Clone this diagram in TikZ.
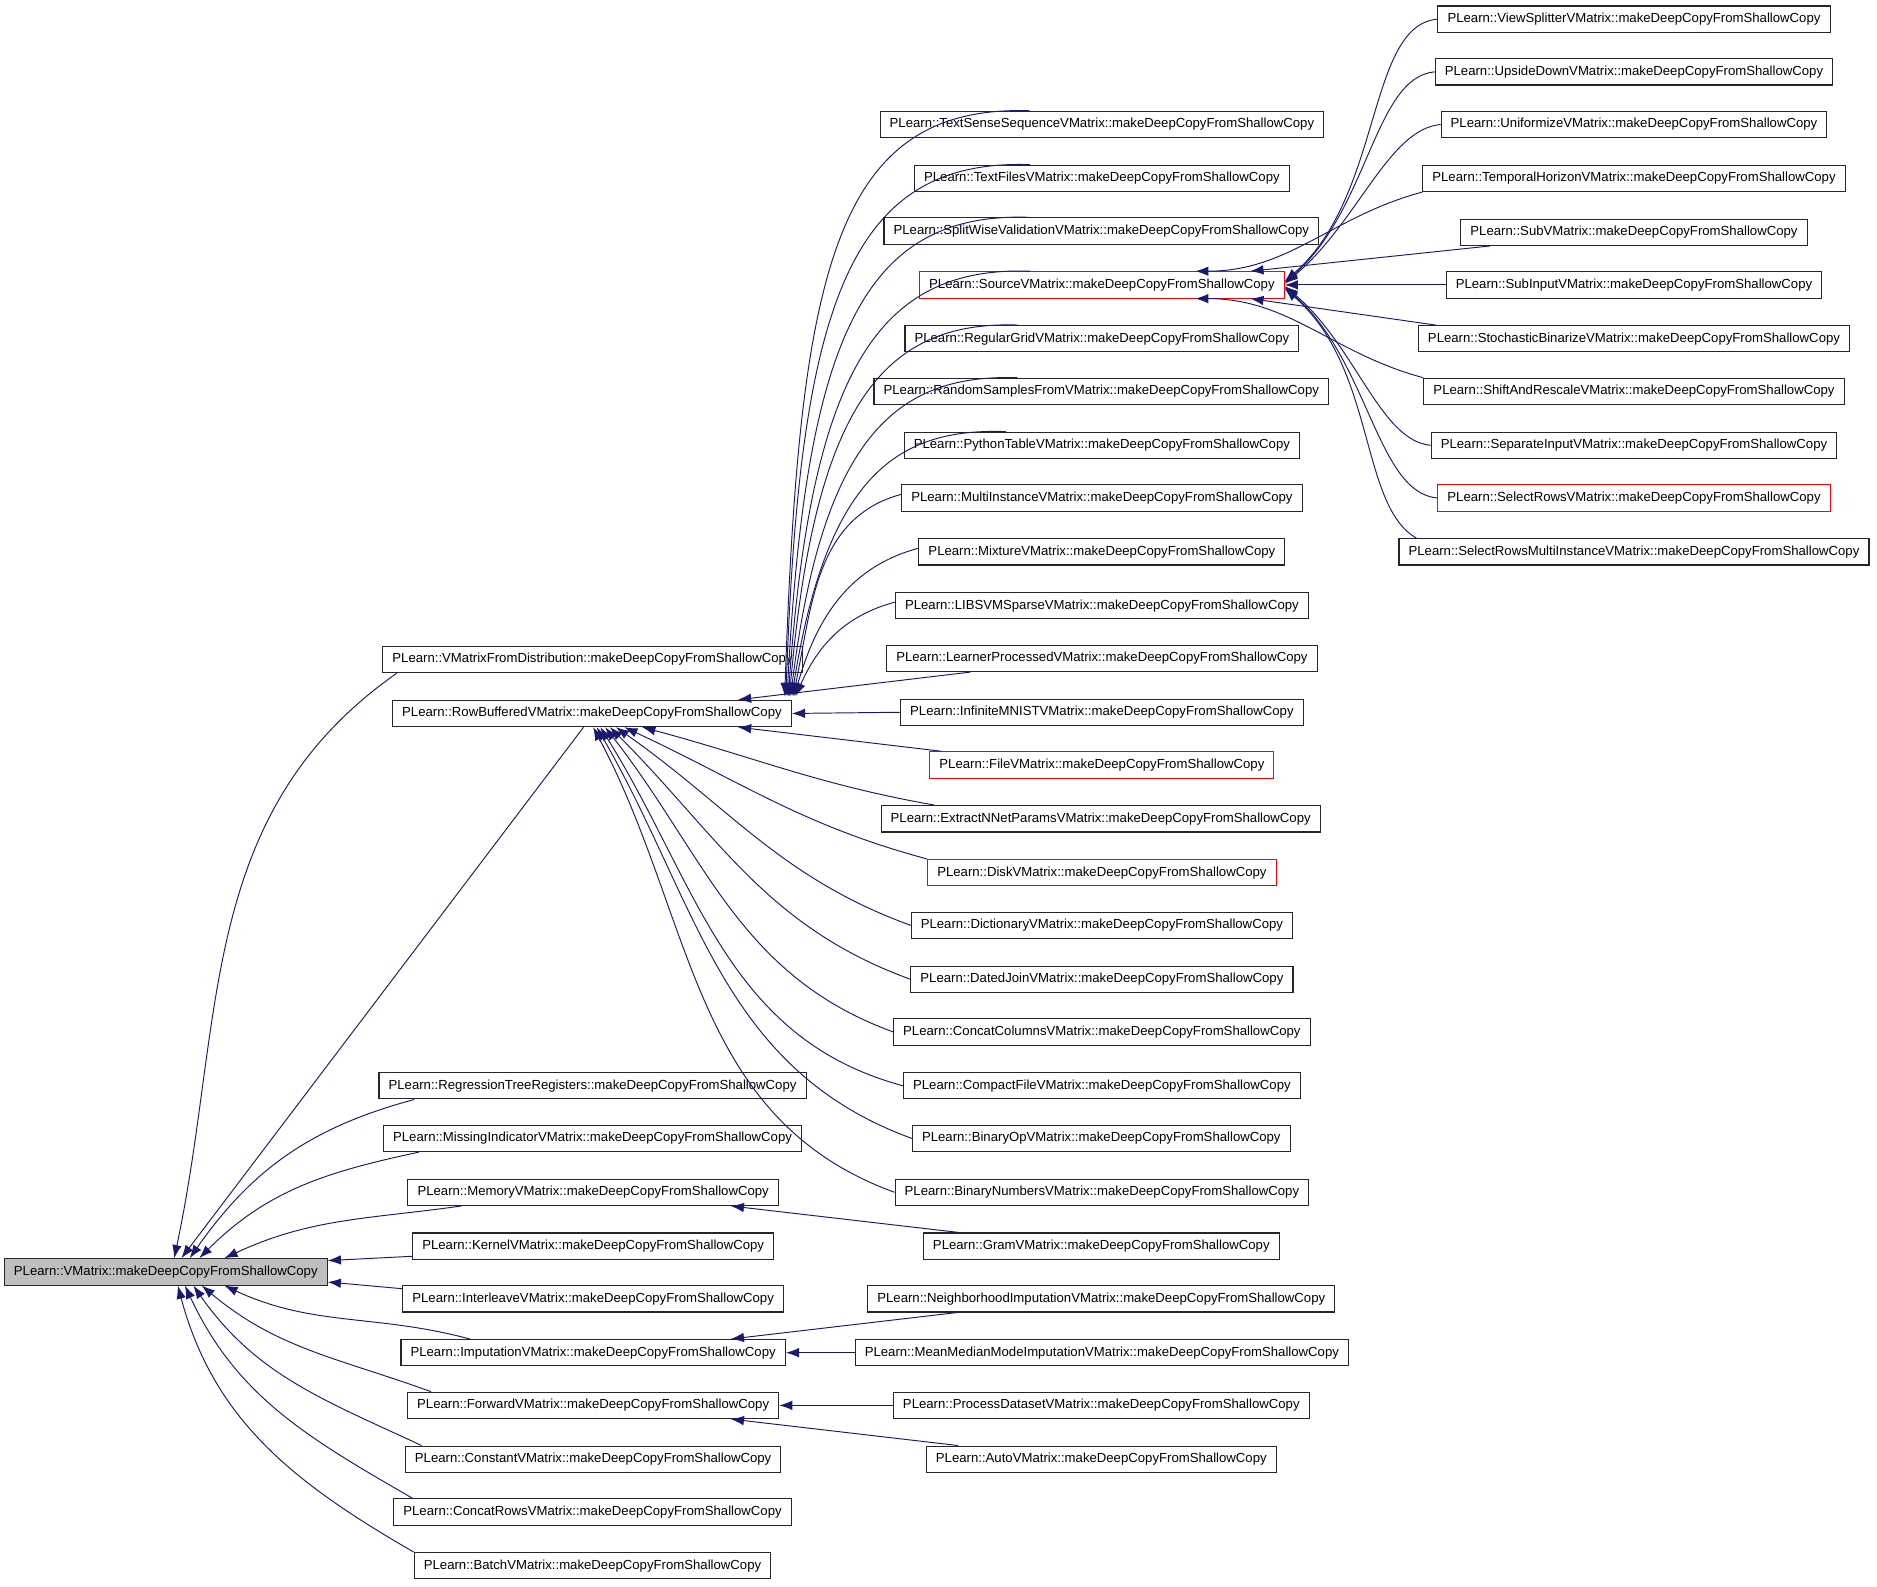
\documentclass[tikz,border=0pt]{standalone}
\usepackage{fontspec}
\setmainfont{Liberation Sans}
\usetikzlibrary{arrows.meta}
\definecolor{edgeblue}{HTML}{191970}
\definecolor{basegray}{HTML}{BFBFBF}

\begin{document}
\begin{tikzpicture}[x=1pt,y=-1pt,
  box/.style={draw=black!85,line width=0.9pt,inner xsep=8pt,inner ysep=0pt,minimum height=22pt,font=\fontsize{11}{13}\selectfont},
  redbox/.style={box,draw=red},
  basebox/.style={box,fill=basegray},
  inh/.style={draw=edgeblue,line width=0.8pt,-{Latex[length=11pt,width=8pt]}},
  bundle/.style={out looseness=0.8,in looseness=1.7},
  fan/.style={out looseness=0.6,in looseness=1.1}]

\useasboundingbox (0,0) rectangle (1568,1325);

% 基底クラス
\node[basebox] (vm) at (138.5,1062.5) {PLearn::VMatrix::makeDeepCopyFromShallowCopy};

% 第1階層
\node[box] (vfd) at (495,551) {PLearn::VMatrixFromDistribution::makeDeepCopyFromShallowCopy};
\node[box] (rb) at (494.5,596) {PLearn::RowBufferedVMatrix::makeDeepCopyFromShallowCopy};
\node[box] (rtr) at (495,907) {PLearn::RegressionTreeRegisters::makeDeepCopyFromShallowCopy};
\node[box] (mind) at (495,951) {PLearn::MissingIndicatorVMatrix::makeDeepCopyFromShallowCopy};
\node[box] (mem) at (495.5,996) {PLearn::MemoryVMatrix::makeDeepCopyFromShallowCopy};
\node[box] (ker) at (495.5,1041) {PLearn::KernelVMatrix::makeDeepCopyFromShallowCopy};
\node[box] (il) at (495.5,1085) {PLearn::InterleaveVMatrix::makeDeepCopyFromShallowCopy};
\node[box] (imp) at (495.5,1130) {PLearn::ImputationVMatrix::makeDeepCopyFromShallowCopy};
\node[box] (fw) at (495.5,1174) {PLearn::ForwardVMatrix::makeDeepCopyFromShallowCopy};
\node[box] (cst) at (495.5,1219) {PLearn::ConstantVMatrix::makeDeepCopyFromShallowCopy};
\node[box] (cr) at (495,1263) {PLearn::ConcatRowsVMatrix::makeDeepCopyFromShallowCopy};
\node[box] (bat) at (495,1308) {PLearn::BatchVMatrix::makeDeepCopyFromShallowCopy};

% 第2階層
\node[box] (tss) at (920.5,104) {PLearn::TextSenseSequenceVMatrix::makeDeepCopyFromShallowCopy};
\node[box] (tfv) at (920.5,149) {PLearn::TextFilesVMatrix::makeDeepCopyFromShallowCopy};
\node[box] (swv) at (920,193) {PLearn::SplitWiseValidationVMatrix::makeDeepCopyFromShallowCopy};
\node[redbox] (src) at (920.5,238) {PLearn::SourceVMatrix::makeDeepCopyFromShallowCopy};
\node[box] (rgv) at (920.5,283) {PLearn::RegularGridVMatrix::makeDeepCopyFromShallowCopy};
\node[box] (rsv) at (920,327) {PLearn::RandomSamplesFromVMatrix::makeDeepCopyFromShallowCopy};
\node[box] (ptv) at (920.5,372) {PLearn::PythonTableVMatrix::makeDeepCopyFromShallowCopy};
\node[box] (miv) at (920.5,416) {PLearn::MultiInstanceVMatrix::makeDeepCopyFromShallowCopy};
\node[box] (mxv) at (920.5,461) {PLearn::MixtureVMatrix::makeDeepCopyFromShallowCopy};
\node[box] (lsv) at (920.5,506) {PLearn::LIBSVMSparseVMatrix::makeDeepCopyFromShallowCopy};
\node[box] (lpv) at (920.5,550) {PLearn::LearnerProcessedVMatrix::makeDeepCopyFromShallowCopy};
\node[box] (imv) at (920.5,595) {PLearn::InfiniteMNISTVMatrix::makeDeepCopyFromShallowCopy};
\node[redbox] (fv) at (920.5,639) {PLearn::FileVMatrix::makeDeepCopyFromShallowCopy};
\node[box] (env) at (919.5,684) {PLearn::ExtractNNetParamsVMatrix::makeDeepCopyFromShallowCopy};
\node[redbox] (dv) at (920.5,729) {PLearn::DiskVMatrix::makeDeepCopyFromShallowCopy};
\node[box] (dcv) at (920.5,773) {PLearn::DictionaryVMatrix::makeDeepCopyFromShallowCopy};
\node[box] (djv) at (920.5,818) {PLearn::DatedJoinVMatrix::makeDeepCopyFromShallowCopy};
\node[box] (ccv) at (920.5,862) {PLearn::ConcatColumnsVMatrix::makeDeepCopyFromShallowCopy};
\node[box] (cfv) at (920.5,907) {PLearn::CompactFileVMatrix::makeDeepCopyFromShallowCopy};
\node[box] (bov) at (920,951) {PLearn::BinaryOpVMatrix::makeDeepCopyFromShallowCopy};
\node[box] (bnv) at (920.5,996) {PLearn::BinaryNumbersVMatrix::makeDeepCopyFromShallowCopy};
\node[box] (gv) at (920,1041) {PLearn::GramVMatrix::makeDeepCopyFromShallowCopy};
\node[box] (nbv) at (920,1085) {PLearn::NeighborhoodImputationVMatrix::makeDeepCopyFromShallowCopy};
\node[box] (mmv) at (920.5,1130) {PLearn::MeanMedianModeImputationVMatrix::makeDeepCopyFromShallowCopy};
\node[box] (pdv) at (920,1174) {PLearn::ProcessDatasetVMatrix::makeDeepCopyFromShallowCopy};
\node[box] (av) at (920,1219) {PLearn::AutoVMatrix::makeDeepCopyFromShallowCopy};

% 第3階層
\node[box] (vsv) at (1365,16) {PLearn::ViewSplitterVMatrix::makeDeepCopyFromShallowCopy};
\node[box] (udv) at (1365,60) {PLearn::UpsideDownVMatrix::makeDeepCopyFromShallowCopy};
\node[box] (unv) at (1365,104) {PLearn::UniformizeVMatrix::makeDeepCopyFromShallowCopy};
\node[box] (thv) at (1365,149) {PLearn::TemporalHorizonVMatrix::makeDeepCopyFromShallowCopy};
\node[box] (sbv) at (1365,194) {PLearn::SubVMatrix::makeDeepCopyFromShallowCopy};
\node[box] (siv) at (1365,238) {PLearn::SubInputVMatrix::makeDeepCopyFromShallowCopy};
\node[box] (sbzv) at (1365,283) {PLearn::StochasticBinarizeVMatrix::makeDeepCopyFromShallowCopy};
\node[box] (sarv) at (1365,327) {PLearn::ShiftAndRescaleVMatrix::makeDeepCopyFromShallowCopy};
\node[box] (sepv) at (1365,372) {PLearn::SeparateInputVMatrix::makeDeepCopyFromShallowCopy};
\node[redbox] (srv) at (1365,416) {PLearn::SelectRowsVMatrix::makeDeepCopyFromShallowCopy};
\node[box] (srmv) at (1365,461) {PLearn::SelectRowsMultiInstanceVMatrix::makeDeepCopyFromShallowCopy};

% VMatrix への矢印
\draw[inh] ([xshift=12]vfd.south west) to[out=215,in=78] ([xshift=7]vm.north);
\draw[inh] ([xshift=-7]rb.south) -- ([xshift=13]vm.north);
\draw[inh] ([xshift=30]rtr.south west) to[out=195,in=55] ([xshift=20]vm.north);
\draw[inh] ([xshift=30]mind.south west) to[out=192,in=45] ([xshift=28]vm.north);
\draw[inh] ([xshift=45]mem.south west) to[out=188,in=25] ([xshift=49]vm.north);
\draw[inh] ([yshift=3]ker.south west) -- ([yshift=-2]vm.north east);
\draw[inh] ([yshift=-3]il.north west) -- ([yshift=3]vm.south east);
\draw[inh] ([xshift=58]imp.north west) to[out=165,in=-25] ([xshift=49]vm.south);
\draw[inh] ([xshift=20]fw.north west) to[out=160,in=-40] ([xshift=30]vm.south);
\draw[inh] ([xshift=14]cst.north west) to[out=155,in=-55] ([xshift=23]vm.south);
\draw[inh] ([xshift=16]cr.north west) to[out=150,in=-65] ([xshift=16]vm.south);
\draw[inh] (bat.north west) to[out=150,in=-75] ([xshift=10]vm.south);

% RowBufferedVMatrix への矢印
\draw[inh,bundle] ([xshift=-60]tss.north) to[out=178,in=88] ([xshift=-6,yshift=3]rb.north east);
\draw[inh,bundle] ([xshift=-60]tfv.north) to[out=178,in=88] ([xshift=-5,yshift=3]rb.north east);
\draw[inh,bundle] ([xshift=-60]swv.north) to[out=178,in=87] ([xshift=-4,yshift=3]rb.north east);
\draw[inh,bundle] ([xshift=-60]src.north) to[out=178,in=86] ([xshift=-3,yshift=3]rb.north east);
\draw[inh,bundle] ([xshift=-70]rgv.north) to[out=178,in=85] ([xshift=-2,yshift=3]rb.north east);
\draw[inh,bundle] ([xshift=-70]rsv.north) to[out=178,in=83] ([xshift=-1,yshift=3]rb.north east);
\draw[inh,bundle] ([xshift=-80]ptv.north) to[out=178,in=81] ([xshift=0,yshift=3]rb.north east);
\draw[inh] ([yshift=3]miv.west) to[out=195,in=78] ([xshift=1,yshift=3]rb.north east);
\draw[inh] ([yshift=3]mxv.west) to[out=195,in=74] ([xshift=2,yshift=3]rb.north east);
\draw[inh] ([yshift=3]lsv.west) to[out=195,in=66] ([xshift=3,yshift=3]rb.north east);
\draw[inh] ([xshift=-110]lpv.south) -- ([xshift=122]rb.north);
\draw[inh] (imv.west) -- (rb.east);
\draw[inh] ([xshift=10]fv.north west) -- ([xshift=122]rb.south);
\draw[inh] ([xshift=45]env.north west) to[out=170,in=-15] ([xshift=42]rb.south);
\draw[inh] (dv.north west) to[out=165,in=-25] ([xshift=27]rb.south);
\draw[inh] (dcv.west) to[out=160,in=-35] ([xshift=20]rb.south);
\draw[inh] (djv.west) to[out=160,in=-45] ([xshift=15]rb.south);
\draw[inh] (ccv.west) to[out=160,in=-52] ([xshift=11]rb.south);
\draw[inh] (cfv.west) to[out=165,in=-58] ([xshift=7]rb.south);
\draw[inh] (bov.west) to[out=160,in=-60] ([xshift=4]rb.south);
\draw[inh] (bnv.west) to[out=160,in=-62] ([xshift=1]rb.south);

% その他の中間クラスへの矢印
\draw[inh] ([xshift=30]gv.north west) -- ([xshift=115]mem.south);
\draw[inh] ([xshift=75]nbv.south west) -- ([xshift=115]imp.north);
\draw[inh] (mmv.west) -- (imp.east);
\draw[inh] (pdv.west) -- (fw.east);
\draw[inh] ([xshift=27]av.north west) -- ([xshift=115]fw.south);

% SourceVMatrix への矢印
\draw[inh,fan] (vsv.west) to[out=185,in=41] ([yshift=3]src.east);
\draw[inh,fan] (udv.west) to[out=185,in=41] ([yshift=2]src.east);
\draw[inh,fan] (unv.west) to[out=185,in=40] ([yshift=1]src.east);
\draw[inh] (thv.south west) to[out=195,in=0] ([xshift=78]src.north);
\draw[inh] ([xshift=25]sbv.south west) -- ([xshift=124]src.north);
\draw[inh] (siv.west) -- (src.east);
\draw[inh] ([xshift=15]sbzv.north west) -- ([xshift=124]src.south);
\draw[inh] (sarv.north west) to[out=165,in=0] ([xshift=78]src.south);
\draw[inh,fan] (sepv.west) to[out=175,in=-40] ([yshift=-1]src.east);
\draw[inh,fan] (srv.west) to[out=175,in=-41] ([yshift=-2]src.east);
\draw[inh,fan] ([xshift=15]srmv.north west) to[out=150,in=-41] ([yshift=-3]src.east);

\end{tikzpicture}
\end{document}
